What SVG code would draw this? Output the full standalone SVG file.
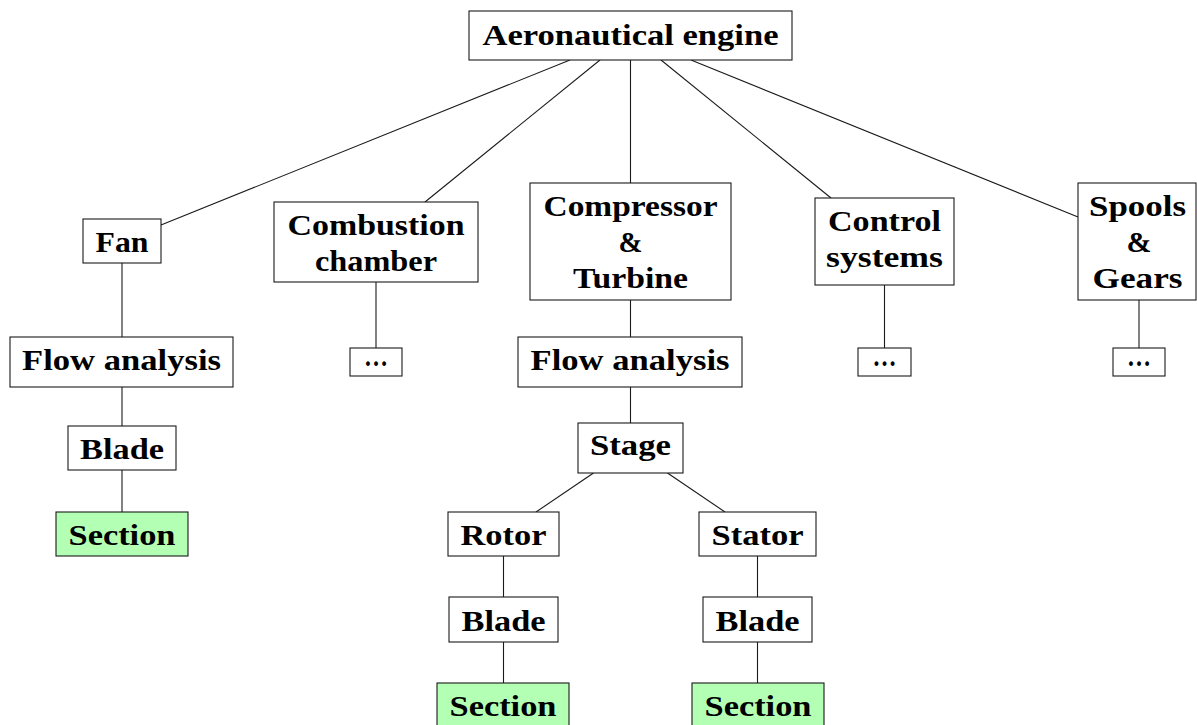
<svg xmlns="http://www.w3.org/2000/svg" width="1197" height="725" viewBox="0 0 1197 725">
  <style>
    .box { fill: #ffffff; stroke: #1a1a1a; stroke-width: 1.1; }
    .leaf { fill: #b3ffb3; stroke: #1a1a1a; stroke-width: 1.1; }
    .lbl { font-family: "Liberation Serif", "Times New Roman", serif; font-weight: bold; font-size: 30px; fill: #000; text-anchor: middle; }
    .edge { stroke: #1a1a1a; stroke-width: 1.1; fill: none; }
  </style>
  <rect width="1197" height="725" fill="#ffffff"/>

  <!-- tree edges -->
  <g id="connectors">
    <line class="edge" x1="570" y1="60" x2="161" y2="225"/>
    <line class="edge" x1="600" y1="60" x2="425" y2="202"/>
    <line class="edge" x1="630.5" y1="60" x2="630.5" y2="183"/>
    <line class="edge" x1="661" y1="60" x2="831" y2="198"/>
    <line class="edge" x1="691" y1="60" x2="1078" y2="217"/>
    <line class="edge" x1="122" y1="263" x2="122" y2="337"/>
    <line class="edge" x1="122" y1="387" x2="122" y2="426"/>
    <line class="edge" x1="122" y1="470" x2="122" y2="512"/>
    <line class="edge" x1="376" y1="282" x2="376" y2="348"/>
    <line class="edge" x1="630.5" y1="300" x2="630.5" y2="337"/>
    <line class="edge" x1="630.5" y1="387" x2="630.5" y2="423"/>
    <line class="edge" x1="593.5" y1="473" x2="536" y2="512"/>
    <line class="edge" x1="667.5" y1="473" x2="725" y2="512"/>
    <line class="edge" x1="503.5" y1="556" x2="503.5" y2="597"/>
    <line class="edge" x1="503.5" y1="642" x2="503.5" y2="683"/>
    <line class="edge" x1="757.5" y1="556" x2="757.5" y2="597"/>
    <line class="edge" x1="757.5" y1="642" x2="757.5" y2="683"/>
    <line class="edge" x1="884.5" y1="285" x2="884.5" y2="348"/>
    <line class="edge" x1="1139" y1="300" x2="1139" y2="348"/>
  </g>

  <g id="root">
    <rect class="box" x="469" y="11" width="323" height="49"/>
    <text class="lbl" x="630.5" y="45" textLength="296" lengthAdjust="spacingAndGlyphs">Aeronautical engine</text>
  </g>

  <!-- fan branch -->
  <g id="fan">
    <rect class="box" x="83" y="219" width="78" height="44"/>
    <text class="lbl" x="122" y="252" textLength="53" lengthAdjust="spacingAndGlyphs">Fan</text>
  </g>
  <g id="fan-flow">
    <rect class="box" x="10" y="337" width="223" height="50"/>
    <text class="lbl" x="121.5" y="370" textLength="199" lengthAdjust="spacingAndGlyphs">Flow analysis</text>
  </g>
  <g id="fan-blade">
    <rect class="box" x="68" y="426" width="108" height="44"/>
    <text class="lbl" x="122" y="459" textLength="84" lengthAdjust="spacingAndGlyphs">Blade</text>
  </g>
  <g id="fan-section">
    <rect class="leaf" x="56" y="512" width="132" height="44"/>
    <text class="lbl" x="122" y="545" textLength="107" lengthAdjust="spacingAndGlyphs">Section</text>
  </g>

  <!-- combustion branch -->
  <g id="combustion">
    <rect class="box" x="274" y="202" width="204" height="80"/>
    <text class="lbl" x="376" y="235" textLength="177" lengthAdjust="spacingAndGlyphs">Combustion</text>
    <text class="lbl" x="376" y="271" textLength="122" lengthAdjust="spacingAndGlyphs">chamber</text>
  </g>
  <g id="combustion-more">
    <rect class="box" x="350" y="348" width="52" height="28"/>
    <text class="lbl" x="376" y="366" textLength="24" lengthAdjust="spacingAndGlyphs">…</text>
  </g>

  <!-- compressor & turbine branch -->
  <g id="compressor">
    <rect class="box" x="530" y="183" width="201" height="117"/>
    <text class="lbl" x="630.5" y="216" textLength="174" lengthAdjust="spacingAndGlyphs">Compressor</text>
    <text class="lbl" x="630.5" y="252" textLength="24" lengthAdjust="spacingAndGlyphs">&amp;</text>
    <text class="lbl" x="630.5" y="288" textLength="115" lengthAdjust="spacingAndGlyphs">Turbine</text>
  </g>
  <g id="compressor-flow">
    <rect class="box" x="518" y="337" width="224" height="50"/>
    <text class="lbl" x="630" y="370" textLength="199" lengthAdjust="spacingAndGlyphs">Flow analysis</text>
  </g>
  <g id="stage">
    <rect class="box" x="578" y="423" width="105" height="50"/>
    <text class="lbl" x="630.5" y="455" textLength="81" lengthAdjust="spacingAndGlyphs">Stage</text>
  </g>
  <g id="rotor">
    <rect class="box" x="448" y="512" width="111" height="44"/>
    <text class="lbl" x="503.5" y="545" textLength="86" lengthAdjust="spacingAndGlyphs">Rotor</text>
  </g>
  <g id="rotor-blade">
    <rect class="box" x="449" y="597" width="109" height="45"/>
    <text class="lbl" x="503.5" y="631" textLength="84" lengthAdjust="spacingAndGlyphs">Blade</text>
  </g>
  <g id="rotor-section">
    <rect class="leaf" x="437" y="683" width="132" height="44"/>
    <text class="lbl" x="503" y="716" textLength="107" lengthAdjust="spacingAndGlyphs">Section</text>
  </g>
  <g id="stator">
    <rect class="box" x="699" y="512" width="117" height="44"/>
    <text class="lbl" x="757.5" y="545" textLength="92" lengthAdjust="spacingAndGlyphs">Stator</text>
  </g>
  <g id="stator-blade">
    <rect class="box" x="703" y="597" width="109" height="45"/>
    <text class="lbl" x="757.5" y="631" textLength="84" lengthAdjust="spacingAndGlyphs">Blade</text>
  </g>
  <g id="stator-section">
    <rect class="leaf" x="692" y="683" width="132" height="44"/>
    <text class="lbl" x="758" y="716" textLength="107" lengthAdjust="spacingAndGlyphs">Section</text>
  </g>

  <!-- control branch -->
  <g id="control">
    <rect class="box" x="815" y="198" width="139" height="87"/>
    <text class="lbl" x="884.5" y="231" textLength="113" lengthAdjust="spacingAndGlyphs">Control</text>
    <text class="lbl" x="884.5" y="267" textLength="117" lengthAdjust="spacingAndGlyphs">systems</text>
  </g>
  <g id="control-more">
    <rect class="box" x="858" y="348" width="53" height="28"/>
    <text class="lbl" x="884.5" y="366" textLength="24" lengthAdjust="spacingAndGlyphs">…</text>
  </g>

  <!-- spools branch -->
  <g id="spools">
    <rect class="box" x="1078" y="183" width="118" height="117"/>
    <text class="lbl" x="1137.5" y="216" textLength="97" lengthAdjust="spacingAndGlyphs">Spools</text>
    <text class="lbl" x="1139" y="252" textLength="25" lengthAdjust="spacingAndGlyphs">&amp;</text>
    <text class="lbl" x="1137.5" y="288" textLength="90" lengthAdjust="spacingAndGlyphs">Gears</text>
  </g>
  <g id="spools-more">
    <rect class="box" x="1113" y="348" width="52" height="28"/>
    <text class="lbl" x="1139" y="366" textLength="24" lengthAdjust="spacingAndGlyphs">…</text>
  </g>
</svg>
